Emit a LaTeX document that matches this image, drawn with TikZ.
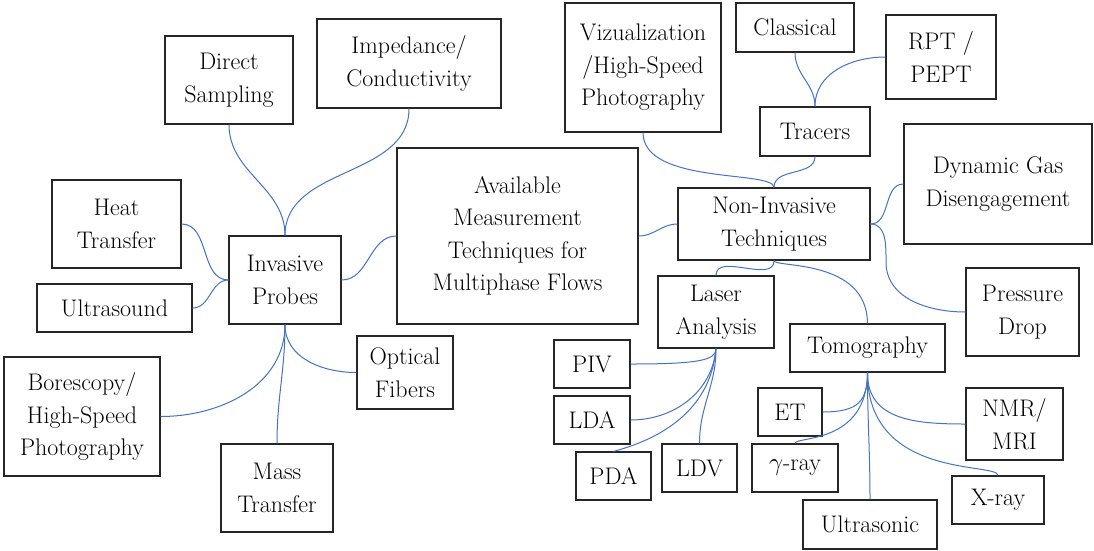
\documentclass[tikz,border=0pt]{standalone}
\begin{document}
\begin{tikzpicture}[x=1pt,y=-1pt,
  box/.style={draw=black!85,line width=1.2pt,inner sep=0pt,align=center,
    font=\fontsize{24}{32.5}\selectfont},
  conn/.style={line width=1pt,color={rgb,255:red,68;green,114;blue,196}}]
\useasboundingbox (0,0) rectangle (1094,550);
% nodes
\node[box,minimum width=128pt,minimum height=88pt] (DS) at (229,80) {Direct\\Sampling};
\node[box,minimum width=184pt,minimum height=89pt] (IMP) at (409,63.5) {Impedance/\\Conductivity};
\node[box,minimum width=129pt,minimum height=88pt] (HT) at (116.5,224) {Heat\\Transfer};
\node[box,minimum width=112pt,minimum height=88pt] (IP) at (285,280) {Invasive\\Probes};
\node[box,minimum width=155pt,minimum height=48pt] (US) at (114.5,308) {Ultrasound};
\node[box,minimum width=156pt,minimum height=119pt] (BS) at (82,416.5) {Borescopy/\\High-Speed\\Photography};
\node[box,minimum width=112pt,minimum height=88pt] (MT) at (277,488) {Mass\\Transfer};
\node[box,minimum width=96pt,minimum height=73pt] (OF) at (405,372.5) {Optical\\Fibers};
\node[box,minimum width=241pt,minimum height=176pt] (CEN) at (517.5,236) {Available\\Measurement\\Techniques for\\Multiphase Flows};
\node[box,minimum width=156pt,minimum height=129pt] (VIZ) at (643,67.5) {Vizualization\\/High-Speed\\Photography};
\node[box,minimum width=192pt,minimum height=72pt] (NI) at (774,224) {Non-Invasive\\Techniques};
\node[box,minimum width=118pt,minimum height=49pt] (CL) at (795,27.5) {Classical};
\node[box,minimum width=110pt,minimum height=84pt] (RPT) at (941,57) {RPT /\\PEPT};
\node[box,minimum width=110pt,minimum height=49pt] (TR) at (815,131.5) {Tracers};
\node[box,minimum width=188pt,minimum height=120pt] (DG) at (998,184) {Dynamic Gas\\Disengagement};
\node[box,minimum width=113pt,minimum height=88pt] (PD) at (1022.5,312) {Pressure\\Drop};
\node[box,minimum width=116pt,minimum height=72pt] (LA) at (716,312) {Laser\\Analysis};
\node[box,minimum width=76pt,minimum height=48pt] (PIV) at (592,364) {PIV};
\node[box,minimum width=76pt,minimum height=48pt] (LDA) at (592,420) {LDA};
\node[box,minimum width=75pt,minimum height=48pt] (PDA) at (613.5,476) {PDA};
\node[box,minimum width=75pt,minimum height=48pt] (LDV) at (699.5,468) {LDV};
\node[box,minimum width=155pt,minimum height=48pt] (TOM) at (867.5,348) {Tomography};
\node[box,minimum width=64pt,minimum height=48pt] (ET) at (790,412) {ET};
\node[box,minimum width=86pt,minimum height=48pt] (GR) at (795,468) {$\gamma$-ray};
\node[box,minimum width=134pt,minimum height=49pt] (UT) at (870,524.5) {Ultrasonic};
\node[box,minimum width=97pt,minimum height=72pt] (NMR) at (1014.5,424) {NMR/\\MRI};
\node[box,minimum width=92pt,minimum height=48pt] (XR) at (998,500) {X-ray};
% connectors
\draw[conn] (DS.south) to[out=-90,in=90] (IP.north);
\draw[conn] (IMP.south) to[out=-90,in=90] (IP.north);
\draw[conn] (HT.east) to[out=0,in=180] (IP.west);
\draw[conn] (US.east) to[out=0,in=180] (IP.west);
\draw[conn] (BS.east) to[out=0,in=-90] (IP.south);
\draw[conn] (MT.north) to[out=90,in=-90] (IP.south);
\draw[conn] (OF.west) to[out=180,in=-90] (IP.south);
\draw[conn] (IP.east) to[out=0,in=180] (CEN.west);
\draw[conn] (CEN.east) to[out=0,in=180] (NI.west);
\draw[conn] (VIZ.south) .. controls (643,185) and (774,170) .. (NI.north);
\draw[conn] (TR.south) to[out=-90,in=90] (NI.north);
\draw[conn] (CL.south) to[out=-90,in=90] (TR.north);
\draw[conn] (RPT.west) to[out=180,in=90] (TR.north);
\draw[conn] (NI.east) to[out=0,in=180] (DG.west);
\draw[conn] (NI.east) to[out=0,in=90] (886,262) to[out=-90,in=180] (PD.west);
\draw[conn] (NI.south) to[out=-90,in=90] (LA.north);
\draw[conn] (NI.south) .. controls (774,268) and (867,258) .. (TOM.north);
\draw[conn] (PIV.east) .. controls (700,364) and (716,360) .. (LA.south);
\draw[conn] (LDA.east) to[out=0,in=-95] (LA.south);
\draw[conn] (PDA.north) to[out=15,in=-95] (LA.south);
\draw[conn] (LDV.north) to[out=90,in=-90] (LA.south);
\draw[conn] (ET.east) .. controls (860,412) and (867,400) .. (TOM.south);
\draw[conn] (GR.north) .. controls (795,436) and (867,445) .. (TOM.south);
\draw[conn] (UT.north) to[out=90,in=-90] (TOM.south);
\draw[conn] (NMR.west) .. controls (915,424) and (867,420) .. (TOM.south);
\draw[conn] (XR.north) .. controls (998,462) and (867,480) .. (TOM.south);
\end{tikzpicture}
\end{document}
